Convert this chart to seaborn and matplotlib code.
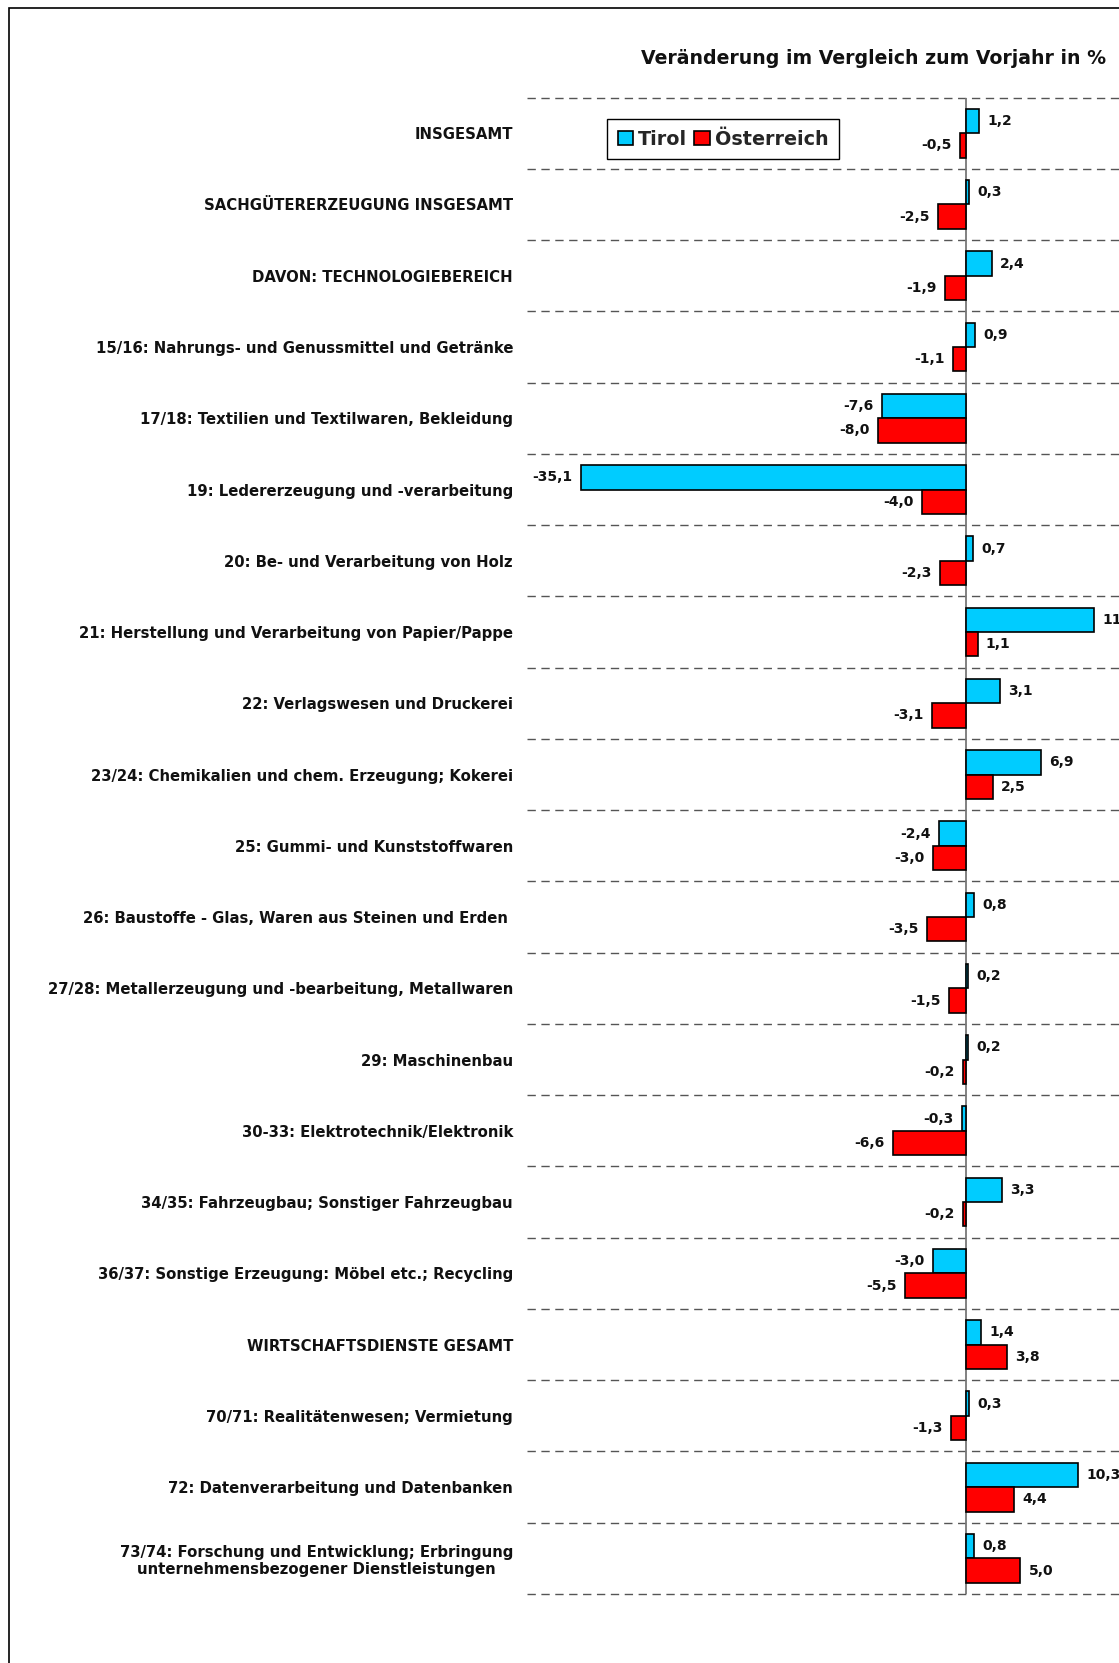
import matplotlib
matplotlib.use("Agg")
import matplotlib.pyplot as plt
from matplotlib.patches import Patch, Rectangle
import pandas as pd
import seaborn as sns

categories = [
    "INSGESAMT",
    "SACHGÜTERERZEUGUNG INSGESAMT",
    "DAVON: TECHNOLOGIEBEREICH",
    "15/16: Nahrungs- und Genussmittel und Getränke",
    "17/18: Textilien und Textilwaren, Bekleidung",
    "19: Ledererzeugung und -verarbeitung",
    "20: Be- und Verarbeitung von Holz",
    "21: Herstellung und Verarbeitung von Papier/Pappe",
    "22: Verlagswesen und Druckerei",
    "23/24: Chemikalien und chem. Erzeugung; Kokerei",
    "25: Gummi- und Kunststoffwaren",
    "26: Baustoffe - Glas, Waren aus Steinen und Erden ",
    "27/28: Metallerzeugung und -bearbeitung, Metallwaren",
    "29: Maschinenbau",
    "30-33: Elektrotechnik/Elektronik",
    "34/35: Fahrzeugbau; Sonstiger Fahrzeugbau",
    "36/37: Sonstige Erzeugung: Möbel etc.; Recycling",
    "WIRTSCHAFTSDIENSTE GESAMT",
    "70/71: Realitätenwesen; Vermietung",
    "72: Datenverarbeitung und Datenbanken",
    "73/74: Forschung und Entwicklung; Erbringung\nunternehmensbezogener Dienstleistungen",
]

tirol = [1.2, 0.3, 2.4, 0.9, -7.6, -35.1, 0.7, 11.7, 3.1, 6.9, -2.4,
         0.8, 0.2, 0.2, -0.3, 3.3, -3.0, 1.4, 0.3, 10.3, 0.8]
oesterreich = [-0.5, -2.5, -1.9, -1.1, -8.0, -4.0, -2.3, 1.1, -3.1, 2.5, -3.0,
               -3.5, -1.5, -0.2, -6.6, -0.2, -5.5, 3.8, -1.3, 4.4, 5.0]

regions = ["Tirol", "Österreich"]
colors = ["#00CCFF", "#FF0000"]
title = "Veränderung im Vergleich zum Vorjahr in %"

df = pd.DataFrame({
    "Bereich": categories * 2,
    "Region": [regions[0]] * len(categories) + [regions[1]] * len(categories),
    "Wert": tirol + oesterreich,
})

sns.set_theme(style="white")
plt.rcParams["font.family"] = ["DejaVu Sans"]

W, H = 1119, 1663
fig = plt.figure(figsize=(W / 100, H / 100), dpi=100)
ax = fig.add_axes([527 / W, 1 - 1594 / H, 1 - 527 / W, (1594 - 97.6) / H])

sns.barplot(
    data=df, x="Wert", y="Bereich", hue="Region",
    order=categories, hue_order=regions, palette=colors,
    orient="h", width=0.685, edgecolor="black", linewidth=1.2,
    saturation=1, legend=False, ax=ax,
)

ax.set_xlim(-40, 14)
ax.set_ylim(len(categories) - 0.5, -0.5)

# dashed separators between the groups
for b in range(len(categories) + 1):
    ax.axhline(b - 0.5, color="#555555", lw=1.0, ls=(0, (6, 4)), zorder=0,
               clip_on=False)
ax.axvline(0, color="#777777", lw=1.3, zorder=0.5)

# value labels at the end of each bar
for cont, vals in zip(ax.containers, [tirol, oesterreich]):
    labels = [f"{v:.1f}".replace(".", ",") for v in vals]
    ax.bar_label(cont, labels=labels, padding=6, fontsize=10,
                 fontweight="bold", color="#111111", clip_on=False)

for s in ax.spines.values():
    s.set_visible(False)
ax.set_xticks([])
ax.set_xlabel("")
ax.set_ylabel("")
ax.tick_params(axis="y", length=0, pad=10)
for lab in ax.get_yticklabels():
    lab.set_fontsize(10.7)
    lab.set_fontweight("bold")
    lab.set_color("#111111")
    lab.set_multialignment("center")

fig.text(1106 / W, 1 - 58 / H, title, ha="right", va="center",
         fontsize=13.6, fontweight="bold", color="#111111")

handles = [Patch(facecolor=c, edgecolor="black", lw=1.2) for c in colors]
leg = ax.legend(
    handles, regions, loc="upper left", ncol=2,
    bbox_to_anchor=(607 / W, 1 - 119 / H), bbox_transform=fig.transFigure,
    borderaxespad=0, frameon=True, fancybox=False, framealpha=1,
    handlelength=0.8, handleheight=0.8, handletextpad=0.25,
    columnspacing=0.4, borderpad=0.55,
    prop={"weight": "bold", "size": 13.8},
)
leg.get_frame().set_edgecolor("black")
leg.get_frame().set_linewidth(1.0)

# outer frame of the chart area
fig.patches.append(Rectangle((9 / W, -0.1), 1.2, 1.1 - 8 / H, transform=fig.transFigure,
                             fill=False, edgecolor="black", lw=1.2, clip_on=False))

fig.savefig("out.png", dpi=100)
